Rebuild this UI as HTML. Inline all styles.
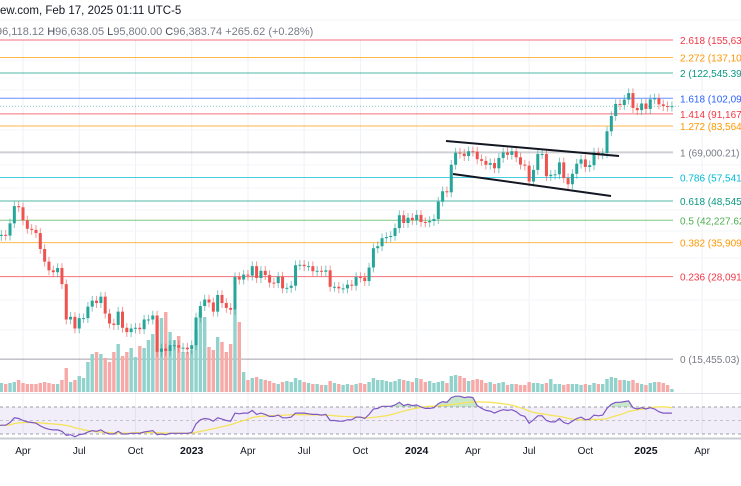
<!DOCTYPE html>
<html><head><meta charset="utf-8">
<style>
html,body{margin:0;padding:0;background:#fff;width:741px;height:486px;overflow:hidden;font-family:"Liberation Sans",sans-serif;}
svg{display:block}
</style></head>
<body>
<svg id="chart" width="741" height="486" xmlns="http://www.w3.org/2000/svg">
 <g id="grid"></g>
 <g id="fib"></g>
 <g id="vol"></g>
 <g id="candles"></g>
 <g>
  <line x1="446" y1="141" x2="619" y2="156" stroke="#131722" stroke-width="2"/>
  <line x1="453" y1="174" x2="611" y2="196" stroke="#131722" stroke-width="2"/>
 </g>
 <g id="rsi"></g>
 <g id="xaxis"></g>
 <text x="0" y="14" font-size="11.5" fill="#131722">ew.com, Feb 17, 2025 01:11 UTC-5</text>
 <text x="-4" y="35" font-size="11" fill="#787b86">96,118.12 <tspan fill="#434651">H</tspan>96,638.05 <tspan fill="#434651">L</tspan>95,800.00 <tspan fill="#434651">C</tspan>96,383.74 +265.62 (+0.28%)</text>
</svg>
<script>
// weekly closes Feb 14 2022 .. Feb 17 2025 (thousands USD)
const closes = [
38.3,37.7,38.0,37.8,41.3,46.8,46.4,42.2,39.7,39.4,38.5,34.3,31.3,29.4,29.0,29.9,26.6,20.6,21.0,19.3,20.8,20.8,22.6,23.6,23.2,24.3,21.5,20.0,19.8,21.8,19.4,18.8,19.3,19.4,19.2,20.6,20.6,21.2,16.3,16.7,16.4,17.1,17.1,16.8,16.8,16.6,
17.1,20.9,22.7,23.8,23.3,21.8,24.6,23.2,22.4,22.1,28.0,27.5,28.5,28.3,30.3,27.8,29.3,28.4,26.9,26.8,28.1,25.8,25.9,26.3,30.5,30.6,30.3,30.3,29.2,29.3,29.1,29.4,26.1,26.1,25.8,25.8,26.5,26.3,28.0,27.9,27.2,30.0,34.5,35.0,37.1,37.4,37.7,39.9,43.8,41.4,43.0,42.3,
43.9,41.7,41.6,42.0,42.6,48.3,52.1,51.7,63.1,68.9,68.4,67.2,69.6,69.4,65.7,64.9,63.1,63.9,61.5,66.3,69.0,67.8,69.6,66.6,63.2,62.7,55.9,60.8,68.2,68.2,58.1,58.7,58.9,64.2,57.3,54.8,59.1,63.6,65.6,62.1,62.9,69.0,68.0,68.7,80.4,89.8,98.0,97.2,101.1,106.0,95.2,93.7,98.3,
94.5,101.3,102.0,97.7,96.5,96.1,96.4];
const firstOpen = 42.5;
const volumes = [
10,9,9,8,9,10,12,9,8,8,8,9,10,9,8,8,12,24,10,12,16,14,30,38,40,38,34,30,40,48,36,40,44,35,46,44,52,58,72,74,80,60,52,56,40,40,
42,62,80,75,45,42,55,50,40,48,82,70,20,12,14,15,13,12,11,9,8,10,11,10,14,12,10,9,8,8,7,7,11,9,8,7,8,7,8,9,8,10,14,12,12,11,10,11,13,12,11,10,
14,13,10,11,9,10,11,9,16,17,16,14,11,12,13,12,9,10,8,9,10,7,8,8,7,7,10,9,9,8,9,13,8,8,7,8,8,8,7,8,7,9,8,8,13,15,14,12,12,11,12,9,8,
7,9,10,10,9,7,3];
const rsiValues = [
43,42,43,43,47,54,53,50,48,47,46,42,39,37,36,36,34,28,29,26,29,30,33,35,34,36,32,30,30,34,30,30,31,31,31,33,34,35,29,30,29,31,31,31,31,31,
32,45,51,53,52,49,54,52,50,49,61,60,61,61,65,59,61,59,56,56,58,54,54,55,61,61,61,60,59,59,58,59,50,50,49,49,51,51,55,55,53,59,67,68,71,71,71,73,77,72,74,72,
73,70,68,68,69,75,78,77,84,86,86,84,85,84,72,68,65,64,61,64,66,65,66,63,58,56,46,51,57,57,50,48,48,53,47,45,49,53,55,51,52,58,57,58,68,74,77,77,78,79,69,67,69,
67,69,67,63,61,61,61];
const fibRatios = ["2.618","2.272","2","1.618","1.414","1.272","1","0.786","0.618","0.5","0.382","0.236","0"];
const fibPrices = [155636.48,137109.46,122545.39,102091.47,91167.95,83564.55,69000.21,57541.58,48545.97,42227.62,35909.27,28091.63,15455.03];
const fibLabels = ["155,636.","137,109.","122,545.39","102,091.","91,167.9","83,564.5","69,000.21","57,541.5","48,545.9","42,227.62","35,909.2","28,091.6","15,455.03"];
const fibColors = ["#f23645","#ff9800","#089981","#2962ff","#f23645","#ff9800","#787b86","#00bcd4","#089981","#4caf50","#ff9800","#f23645","#787b86"];
const tickLabels = ["Apr","Jul","Oct","2023","Apr","Jul","Oct","2024","Apr","Jul","Oct","2025","Apr"];
const tickIndex = [7,20,33,46,59,72,85,98,111,124,137,151,164];

const NS="http://www.w3.org/2000/svg";
function mk(tag,attrs,parent){const e=document.createElementNS(NS,tag);for(const k in attrs)e.setAttribute(k,attrs[k]);parent.appendChild(e);return e;}
const X=i=>23+(i-7)*4.326;
const LTOP=Math.log(155636.48);
const Y=p=>40+(LTOP-Math.log(p))*138.2;
const YR=r=>434-(r-30)*0.675;
const VB=392;

const grid=document.getElementById('grid');
tickIndex.forEach(ti=>{const l=mk('line',{x1:X(ti),x2:X(ti),y1:40,y2:438,stroke:'#eef1f7','stroke-width':1},grid);

});
[20,60,90,130,165,188,210,231,258,300,330].forEach(y=>{const l=mk('line',{x1:0,x2:741,y1:y,y2:y,stroke:'#f2f4f9','stroke-width':1},grid);

});

const fib=document.getElementById('fib');
fibPrices.forEach((p,k)=>{const y=Y(p);
 const l=mk('line',{x1:0,x2:673,y1:y,y2:y,stroke:fibColors[k],'stroke-width':fibRatios[k]==="1"?2:1,opacity:fibRatios[k]==="1"?0.35:0.7},fib);
 
 
 const t=mk('text',{x:680,y:y+4,'font-size':10,fill:fibColors[k]},fib);
 t.textContent=fibRatios[k]+" ("+fibLabels[k]+")";
 
 
});
const lastY=Y(closes[closes.length-1]*1000);
const cp=mk('line',{x1:0,x2:680,y1:lastY,y2:lastY,stroke:'#26a69a','stroke-width':1,'stroke-dasharray':'1 2',opacity:0.6},fib);



const vol=document.getElementById('vol'), cg=document.getElementById('candles');
const n=Math.min(closes.length,volumes.length);
for(let i=0;i<n;i++){
 const c=closes[i]*1000, o=(i===0?firstOpen:closes[i-1])*1000;
 const up=c>=o, x=X(i);
 const v=mk('rect',{x:x-1.7,y:VB-volumes[i],width:3.4,height:volumes[i],fill:up?'#92d2cc':'#f7a9a7'},vol);
 
 
 const hi=Math.max(o,c)*1.035, lo=Math.min(o,c)*0.965;
 const col=up?'#26a69a':'#ef5350';
 const w=mk('line',{x1:x,x2:x,y1:Y(hi),y2:Y(lo),stroke:col,'stroke-width':1,opacity:0.6},cg);
 
 
 const yt=Y(Math.max(o,c)), yb=Y(Math.min(o,c));
 const b=mk('rect',{x:x-1.5,y:yt,width:3,height:Math.max(1,yb-yt),fill:col},cg);
 
 
}
const sep=mk('line',{x1:0,x2:741,y1:393.5,y2:393.5,stroke:'#e0e3eb','stroke-width':1},vol);



const rsi=document.getElementById('rsi');
const band=mk('rect',{x:0,y:YR(70),width:741,height:YR(30)-YR(70),fill:'#7e57c2','fill-opacity':0.1},rsi);


[70,50,30].forEach(r=>{const l=mk('line',{x1:0,x2:741,y1:YR(r),y2:YR(r),stroke:'#9598a1','stroke-width':1,'stroke-dasharray':'3 3',opacity:r===50?0.5:0.9},rsi);

});
const m=rsiValues.length;
const pts=rsiValues.map((r,i)=>X(i).toFixed(1)+','+YR(r).toFixed(1));
const defs=mk('defs',{},rsi);
const cl=mk('clipPath',{id:'ob'},defs);
mk('rect',{x:0,y:380,width:741,height:YR(70)-380},cl);
const ob=mk('polygon',{points:pts.join(' ')+' '+X(m-1)+','+YR(70)+' '+X(0)+','+YR(70),fill:'#4caf50','fill-opacity':0.3,'clip-path':'url(#ob)'},rsi);


const ma=[];
for(let i=0;i<m;i++){let s=0,k=0;for(let j=Math.max(0,i-13);j<=i;j++){s+=rsiValues[j];k++;}ma.push(s/k);}
const mal=mk('polyline',{points:ma.map((r,i)=>X(i).toFixed(1)+','+YR(r).toFixed(1)).join(' '),fill:'none',stroke:'#f5e35b','stroke-width':1.3},rsi);


const rl=mk('polyline',{points:pts.join(' '),fill:'none',stroke:'#7e57c2','stroke-width':1.2},rsi);


const bot=mk('line',{x1:0,x2:741,y1:438.5,y2:438.5,stroke:'#c9ccd4','stroke-width':2},rsi);



const xa=document.getElementById('xaxis');
tickLabels.forEach((s,k)=>{const bold=/^\d/.test(s);
 const t=mk('text',{x:X(tickIndex[k]),y:454,'font-size':bold?10.5:10,'font-weight':bold?'bold':'normal',fill:'#131722','text-anchor':'middle'},xa);
 t.textContent=s;
 
 });
</script>
</body></html>
